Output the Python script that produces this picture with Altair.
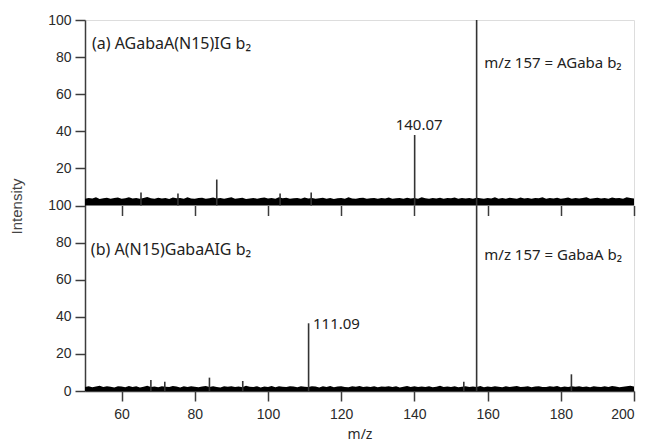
import altair as alt
import pandas as pd

# ---------------- data ----------------
mz_grid = list(range(50, 201))  # baseline noise sampled every 1 m/z

noise_a = [3.6,4.1,3.8,4.4,3.5,3.9,4.2,3.7,4.0,4.3,
           3.6,3.9,4.5,3.8,4.1,3.7,4.0,4.6,3.9,3.6,
           4.2,3.8,4.0,3.5,4.3,3.9,4.1,3.7,4.4,3.8,
           3.6,4.0,4.2,3.7,3.9,4.3,3.8,4.1,3.6,4.0,
           4.4,3.7,3.9,4.2,3.5,3.8,4.1,3.6,4.0,4.3,
           3.8,4.1,3.7,4.5,3.9,4.2,3.6,3.9,4.0,3.7,
           4.3,3.8,4.1,3.6,3.9,4.2,3.7,4.0,3.5,3.9,
           4.1,3.7,4.4,3.8,3.6,4.0,4.2,3.7,3.9,4.1,
           3.6,4.0,3.8,4.3,3.7,3.9,4.1,3.6,4.2,3.8,
           4.0,3.7,4.4,3.9,3.6,4.1,3.8,4.2,3.7,4.0,
           3.9,4.3,3.6,4.0,3.8,4.1,3.7,4.2,3.9,3.6,
           4.1,3.8,4.4,3.7,4.0,3.6,4.2,3.9,3.7,4.3,
           3.8,4.0,3.6,4.1,3.9,4.4,3.7,4.0,3.8,4.2,
           3.6,3.9,4.3,3.7,4.1,3.8,4.0,4.5,3.7,3.9,
           4.2,3.8,4.0,3.6,4.3,3.9,4.1,3.7,4.4,4.0,
           3.8]

noise_b = [2.2,2.6,2.0,2.4,2.8,2.1,2.5,2.3,1.9,2.6,
           2.4,2.0,2.7,2.2,2.5,1.9,2.3,2.8,2.1,2.4,
           2.0,2.6,2.3,2.1,2.7,2.4,1.9,2.5,2.2,2.6,
           2.3,2.0,2.4,2.7,2.1,2.5,2.2,1.9,2.6,2.3,
           2.5,2.1,2.4,2.0,2.8,2.3,2.2,2.6,1.9,2.4,
           2.2,2.7,2.0,2.5,2.3,2.1,2.6,2.4,2.0,2.5,
           2.3,2.1,2.6,2.4,1.9,2.5,2.2,2.7,2.0,2.4,
           2.6,2.2,2.0,2.5,2.3,2.7,2.1,2.4,2.2,2.6,
           2.0,2.4,2.3,2.6,2.1,2.5,1.9,2.3,2.7,2.2,
           2.5,2.1,2.4,2.2,2.6,2.0,2.3,2.8,2.1,2.4,
           2.2,2.6,2.0,2.3,2.5,2.1,2.4,2.2,2.7,2.0,
           2.4,2.1,2.5,2.3,2.0,2.6,2.2,2.4,2.7,2.1,
           2.3,2.5,2.0,2.4,2.6,2.2,2.1,2.5,2.3,2.7,
           2.0,2.4,2.2,2.6,2.3,2.5,2.1,2.4,2.0,2.6,
           2.3,2.1,2.5,2.2,2.7,2.4,2.0,2.3,2.6,2.8,
           2.4]

# discrete peaks (m/z, relative intensity)
peaks_a_mz = [65.3, 75.4, 86.0, 103.3, 111.8, 140.07, 157.0]
peaks_a_int = [7.0, 6.5, 14.0, 6.5, 7.0, 38.0, 100.0]

peaks_b_mz = [68.0, 71.8, 84.0, 93.1, 111.09, 153.5, 157.0, 182.9]
peaks_b_int = [5.9, 5.0, 7.2, 5.4, 36.5, 5.0, 100.0, 9.0]

# panel titles
title_text = ["(a) AGabaA(N15)IG b\u2082", "(b) A(N15)GabaAIG b\u2082"]
title_mz = [51.9, 51.6]
title_int = [87.0, 76.0]
title_off = [100, 0]

# peak annotations (m/z, intensity within panel)
ann_text = ["m/z 157 = AGaba b\u2082", "140.07", "m/z 157 = GabaA b\u2082", "111.09"]
ann_mz = [159.1, 141.3, 159.1, 112.3]
ann_int = [76.8, 43.4, 73.3, 36.3]
ann_off = [100, 100, 0, 0]
ann_align = ["left", "center", "left", "left"]

x_ticks = [60, 80, 100, 120, 140, 160, 180, 200]
y_ticks = [0, 20, 40, 60, 80, 100, 120, 140, 160, 180, 200]

PANEL_OFFSET = 100  # upper panel is stacked on top of the lower one

# ---------------- tables ----------------
noise_df = pd.concat([
    pd.DataFrame({"mz": mz_grid, "int": noise_a, "off": PANEL_OFFSET, "panel": "a"}),
    pd.DataFrame({"mz": mz_grid, "int": noise_b, "off": 0, "panel": "b"}),
])

peaks_a_df = pd.DataFrame({"mz": peaks_a_mz, "int": peaks_a_int, "off": PANEL_OFFSET})
peaks_b_df = pd.DataFrame({"mz": peaks_b_mz, "int": peaks_b_int, "off": 0})

title_df = pd.DataFrame({"text": title_text, "mz": title_mz, "int": title_int,
                         "off": title_off})
ann_df = pd.DataFrame({"text": ann_text, "mz": ann_mz, "int": ann_int,
                       "off": ann_off, "align": ann_align})

# ---------------- scales / axes ----------------
xscale = alt.Scale(domain=[50, 200], nice=False, zero=False)
yscale = alt.Scale(domain=[0, 200], nice=False)

AXIS_COLOR = "#3c3c3c"
LABEL_FONT = "Liberation Sans"
TEXT_FONT = "Noto Sans"

x_bottom = alt.Axis(values=x_ticks, title="m/z", orient="bottom",
                    tickSize=10, tickWidth=1.5, tickColor=AXIS_COLOR,
                    domainColor=AXIS_COLOR, domainWidth=1.5,
                    labelFont=LABEL_FONT, labelFontSize=14, labelColor="#2a2a2a",
                    labelPadding=6, grid=False,
                    titleFont=TEXT_FONT, titleFontSize=14, titleColor="#2a2a2a",
                    titleFontWeight="normal", titleBaseline="middle", titleY=43)

x_mid = alt.Axis(values=x_ticks, title=None, orient="top", offset=-195.5,
                 tickSize=10, tickWidth=1.5, tickColor=AXIS_COLOR,
                 domain=False, labels=False, grid=False)

y_axis = alt.Axis(values=y_ticks, title="Intensity",
                  labelExpr="datum.value > 100 ? datum.value - 100 : datum.value",
                  tickSize=10, tickWidth=1.5, tickColor=AXIS_COLOR,
                  domainColor=AXIS_COLOR, domainWidth=1.5,
                  labelFont=LABEL_FONT, labelFontSize=14, labelColor="#2a2a2a",
                  labelPadding=4, grid=False,
                  titleFont=LABEL_FONT, titleFontSize=15, titleColor="#444444",
                  titleFontWeight="normal", titleX=-69, titleY=186,
                  titleAngle=270, titleAlign="center", titleBaseline="middle")

Y = alt.Y("y:Q", scale=yscale, axis=y_axis)

noise = alt.Chart(noise_df).transform_calculate(
    y="datum.int + datum.off", y0="datum.off"
).mark_area(color="black", interpolate="linear").encode(
    x=alt.X("mz:Q", scale=xscale, axis=x_bottom),
    y=Y, y2=alt.Y2("y0:Q"), detail="panel:N",
)

peaks_a = alt.Chart(peaks_a_df).transform_calculate(
    y="datum.int + datum.off", y0="datum.off"
).mark_rule(color="#333333", strokeWidth=1.6).encode(
    x=alt.X("mz:Q", scale=xscale, axis=x_mid),
    y=Y, y2=alt.Y2("y0:Q"),
)

peaks_b = alt.Chart(peaks_b_df).transform_calculate(
    y="datum.int + datum.off", y0="datum.off"
).mark_rule(color="#333333", strokeWidth=1.6).encode(
    x=alt.X("mz:Q", scale=xscale, axis=None),
    y=Y, y2=alt.Y2("y0:Q"),
)

titles = alt.Chart(title_df).transform_calculate(
    y="datum.int + datum.off"
).mark_text(font=TEXT_FONT, fontSize=16, color="#222222",
            align="left", baseline="middle").encode(
    x=alt.X("mz:Q", scale=xscale, axis=None),
    y=Y, text="text:N",
)

def ann_layer(align):
    return alt.Chart(ann_df).transform_filter(
        alt.datum.align == align
    ).transform_calculate(
        y="datum.int + datum.off"
    ).mark_text(font=TEXT_FONT, fontSize=15, color="#222222",
                align=align, baseline="middle").encode(
        x=alt.X("mz:Q", scale=xscale, axis=None),
        y=Y, text="text:N",
    )

chart = alt.layer(
    noise, peaks_a, peaks_b, titles, ann_layer("left"), ann_layer("center")
).resolve_axis(x="independent").properties(
    width=549, height=371,
    autosize=alt.AutoSizeParams(type="none"),
    padding={"left": 77, "top": 12, "right": 12, "bottom": 50},
).configure_view(stroke=None).configure(background="white")

chart.save("out.html", embed_options={"renderer": "svg", "actions": False})
